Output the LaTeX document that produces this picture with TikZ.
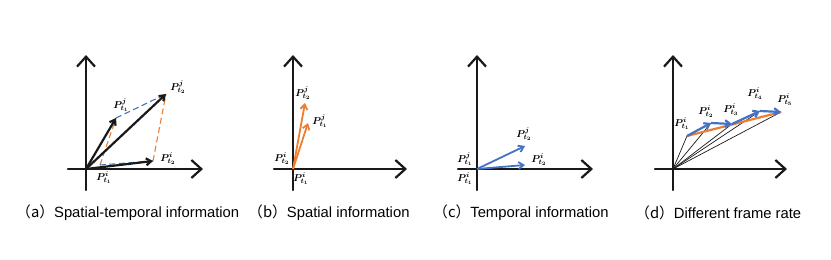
\documentclass[tikz,border=0pt]{standalone}
\usepackage{fontspec}
\setmainfont{Liberation Sans}
\newfontfamily\cjkfont{Noto Sans CJK SC}
\usepackage{amsmath}
\usepackage{bm}
\usetikzlibrary{arrows.meta}

\newlength{\du}
\setlength{\du}{1pt}

\definecolor{axiscolor}{rgb}{0.100000, 0.100000, 0.100000}
\definecolor{vecorange}{rgb}{0.929412, 0.490196, 0.192157}
\definecolor{vecblue}{rgb}{0.266667, 0.447059, 0.768627}

\newcommand{\pvec}[2]{$\bm{P}^{\bm{#1}}_{\bm{t}_{\bm{#2}}}$}
\newcommand{\capt}[2]{{\cjkfont （#1）}#2}

\tikzset{
  axis/.style={draw=axiscolor, line width=2.2\du, line cap=round, -{Straight Barb[length=10pt,width=18pt]}},
  vecblack/.style={draw=axiscolor, line width=2.2\du, -{Straight Barb[length=5pt,width=7pt]}},
  vecthick/.style={line width=2.2\du, -{Straight Barb[length=5pt,width=7pt]}},
  dashblue/.style={draw=vecblue, line width=1.1\du, dash pattern=on 6pt off 3.5pt},
  dashorange/.style={draw=vecorange, line width=1.1\du, dash pattern=on 6pt off 3.5pt},
  plabel/.style={inner sep=0pt, font=\fontsize{10}{11}\selectfont},
  caption/.style={anchor=west, inner sep=0pt, font=\fontsize{14.8}{17}\selectfont}
}

\begin{document}
\begin{tikzpicture}
\pgftransformxscale{1.000000}
\pgftransformyscale{-1.000000}
\useasboundingbox (0\du,0\du) rectangle (831\du,260\du);
% panel (a)
\coordinate (oA) at (86\du,169\du);
\coordinate (xA0) at (68\du,169\du);
\coordinate (xA1) at (203\du,169\du);
\coordinate (yA0) at (86\du,190\du);
\coordinate (yA1) at (86\du,55\du);
\coordinate (pi1A) at (100\du,165\du);
\coordinate (pi2A) at (153\du,161\du);
\coordinate (pj1A) at (116\du,118\du);
\coordinate (pj2A) at (166\du,94\du);
\draw[axis] (xA0) -- (xA1);
\draw[axis] (yA0) -- (yA1);
\draw[dashorange] (pi1A) -- (pj1A);
\draw[dashorange] (pi2A) -- (pj2A);
\draw[dashblue] (pi1A) -- (pi2A);
\draw[dashblue] (pj1A) -- (pj2A);
\draw[vecblack] (oA) -- (pj1A);
\draw[vecblack] (oA) -- (pj2A);
\draw[vecblack] (oA) -- (pi2A);
\node[plabel] (lj1A) at (121\du,105\du){\pvec{j}{1}};
\node[plabel] (lj2A) at (178\du,87\du){\pvec{j}{2}};
\node[plabel] (li2A) at (168\du,159\du){\pvec{i}{2}};
\node[plabel] (li1A) at (104\du,178\du){\pvec{i}{1}};
% panel (b)
\coordinate (oB) at (293\du,169\du);
\coordinate (xB0) at (274\du,169\du);
\coordinate (xB1) at (407\du,169\du);
\coordinate (yB0) at (293\du,190\du);
\coordinate (yB1) at (293\du,55\du);
\coordinate (pj2B) at (305\du,103\du);
\coordinate (pj1B) at (308\du,123\du);
\draw[axis] (xB0) -- (xB1);
\draw[axis] (yB0) -- (yB1);
\draw[vecthick, draw=vecorange, line width=1.8\du] (oB) -- (pj2B);
\draw[vecthick, draw=vecorange, line width=1.8\du] (oB) -- (pj1B);
\node[plabel] (lj2B) at (303\du,93\du){\pvec{j}{2}};
\node[plabel] (lj1B) at (320\du,121\du){\pvec{j}{1}};
\node[plabel] (li2B) at (282\du,159\du){\pvec{i}{2}};
\node[plabel] (li1B) at (301\du,179\du){\pvec{i}{1}};
% panel (c)
\coordinate (oC) at (477\du,169\du);
\coordinate (xC0) at (458\du,169\du);
\coordinate (xC1) at (593\du,169\du);
\coordinate (yC0) at (477\du,190\du);
\coordinate (yC1) at (477\du,55\du);
\coordinate (pj2C) at (525\du,146\du);
\coordinate (pi2C) at (525\du,165\du);
\draw[axis] (xC0) -- (xC1);
\draw[axis] (yC0) -- (yC1);
\draw[vecthick, draw=vecblue, line width=1.8\du] (oC) -- (pj2C);
\draw[vecthick, draw=vecblue, line width=1.8\du] (oC) -- (pi2C);
\node[plabel] (lj2C) at (524\du,134\du){\pvec{j}{2}};
\node[plabel] (li2C) at (539\du,160\du){\pvec{i}{2}};
\node[plabel] (lj1C) at (465\du,159\du){\pvec{j}{1}};
\node[plabel] (li1C) at (465\du,179\du){\pvec{i}{1}};
% panel (d)
\coordinate (oD) at (673\du,169\du);
\coordinate (xD0) at (655\du,169\du);
\coordinate (xD1) at (787\du,169\du);
\coordinate (yD0) at (673\du,190\du);
\coordinate (yD1) at (673\du,55\du);
\coordinate (p1D) at (687\du,136\du);
\coordinate (p2D) at (711\du,123\du);
\coordinate (p3D) at (732\du,124\du);
\coordinate (p4D) at (760\du,111\du);
\coordinate (p5D) at (781\du,112\du);
\draw[axis] (xD0) -- (xD1);
\draw[axis] (yD0) -- (yD1);
\foreach \k in {1,...,5}{
  \draw[draw=axiscolor, line width=0.7\du] (oD) -- (p\k D);
}
\draw[draw=vecorange, line width=2.2\du] (p1D) -- (p5D);
\draw[vecthick, draw=vecblue] (p1D) -- (p2D);
\draw[vecthick, draw=vecblue] (p2D) -- (p3D);
\draw[vecthick, draw=vecblue] (p3D) -- (p4D);
\draw[vecthick, draw=vecblue] (p4D) -- (p5D);
\node[plabel] (l1D) at (682\du,124\du){\pvec{i}{1}};
\node[plabel] (l2D) at (706\du,112\du){\pvec{i}{2}};
\node[plabel] (l3D) at (731\du,110\du){\pvec{i}{3}};
\node[plabel] (l4D) at (755\du,94\du){\pvec{i}{4}};
\node[plabel] (l5D) at (785\du,100\du){\pvec{i}{5}};
% captions
\node[caption] (capA) at (16\du,213\du){\capt{a}{Spatial-temporal information}};
\node[caption] (capB) at (248\du,213\du){\capt{b}{Spatial information}};
\node[caption] (capC) at (433\du,213\du){\capt{c}{Temporal information}};
\node[caption] (capD) at (635\du,213\du){\capt{d}{Different frame rate}};
\end{tikzpicture}
\end{document}
